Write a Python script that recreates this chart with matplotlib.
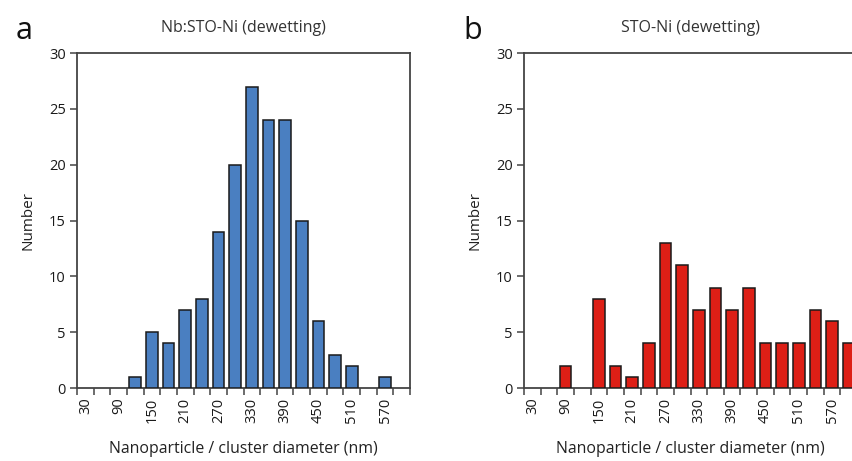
import matplotlib
matplotlib.use("Agg")
import matplotlib.pyplot as plt
import numpy as np

plt.rcParams['font.family'] = ['Open Sans', 'DejaVu Sans']

diameters = [30, 60, 90, 120, 150, 180, 210, 240, 270, 300, 330, 360, 390, 420, 450, 480, 510, 540, 570, 600]
counts_nbsto = [0, 0, 0, 1, 5, 4, 7, 8, 14, 20, 27, 24, 24, 15, 6, 3, 2, 0, 1, 0]
counts_sto = [0, 0, 2, 0, 8, 2, 1, 4, 13, 11, 7, 9, 7, 9, 4, 4, 4, 7, 6, 4]
titles = ["Nb:STO-Ni (dewetting)", "STO-Ni (dewetting)"]
panel_labels = ["a", "b"]
colors = ["#4a7fc1", "#dd1f16"]

W, H = 852, 461
fig = plt.figure(figsize=(W / 100, H / 100), dpi=100)

lefts = [77, 524]
axw = 333
bottom_px, top_px = 388, 53

for i, counts in enumerate([counts_nbsto, counts_sto]):
    ax = fig.add_axes([lefts[i] / W, (H - bottom_px) / H, axw / W, (bottom_px - top_px) / H])
    x = np.arange(len(diameters))
    lw = [1.1 if c > 0 else 0 for c in counts]
    ax.bar(x, counts, width=0.7, color=colors[i], edgecolor="#1a1a1a", linewidth=lw, zorder=3)
    ax.set_xlim(-0.5, len(diameters) - 0.5)
    ax.set_ylim(0, 30)
    ax.set_yticks(range(0, 31, 5))
    ax.set_xticks(x[::2])
    ax.set_xticklabels([str(d) for d in diameters[::2]], rotation=90, fontsize=10.5, color="#1a1a1a")
    ax.set_xticks(np.arange(-0.5, len(diameters), 1.0), minor=True)
    ax.tick_params(axis='x', which='major', length=0, pad=7)
    ax.tick_params(axis='x', which='minor', length=5, width=1.1, color="#444444", direction='out')
    ax.tick_params(axis='y', length=5, width=1.1, color="#444444", labelsize=10.5, labelcolor="#1a1a1a", pad=3)
    for s in ax.spines.values():
        s.set_color("#444444")
        s.set_linewidth(1.3)
    ax.set_ylabel("Number", fontsize=11, color="#222222", labelpad=10)
    ax.set_xlabel("Nanoparticle / cluster diameter (nm)", fontsize=11.4, color="#222222", labelpad=13)
    ax.set_title(titles[i], fontsize=11.5, color="#333333", pad=15)
    fig.text((lefts[i] - 61) / W, 1 - 31 / H, panel_labels[i], fontsize=22, color="#111111",
             ha="left", va="center")

fig.savefig("out.png", dpi=100)
